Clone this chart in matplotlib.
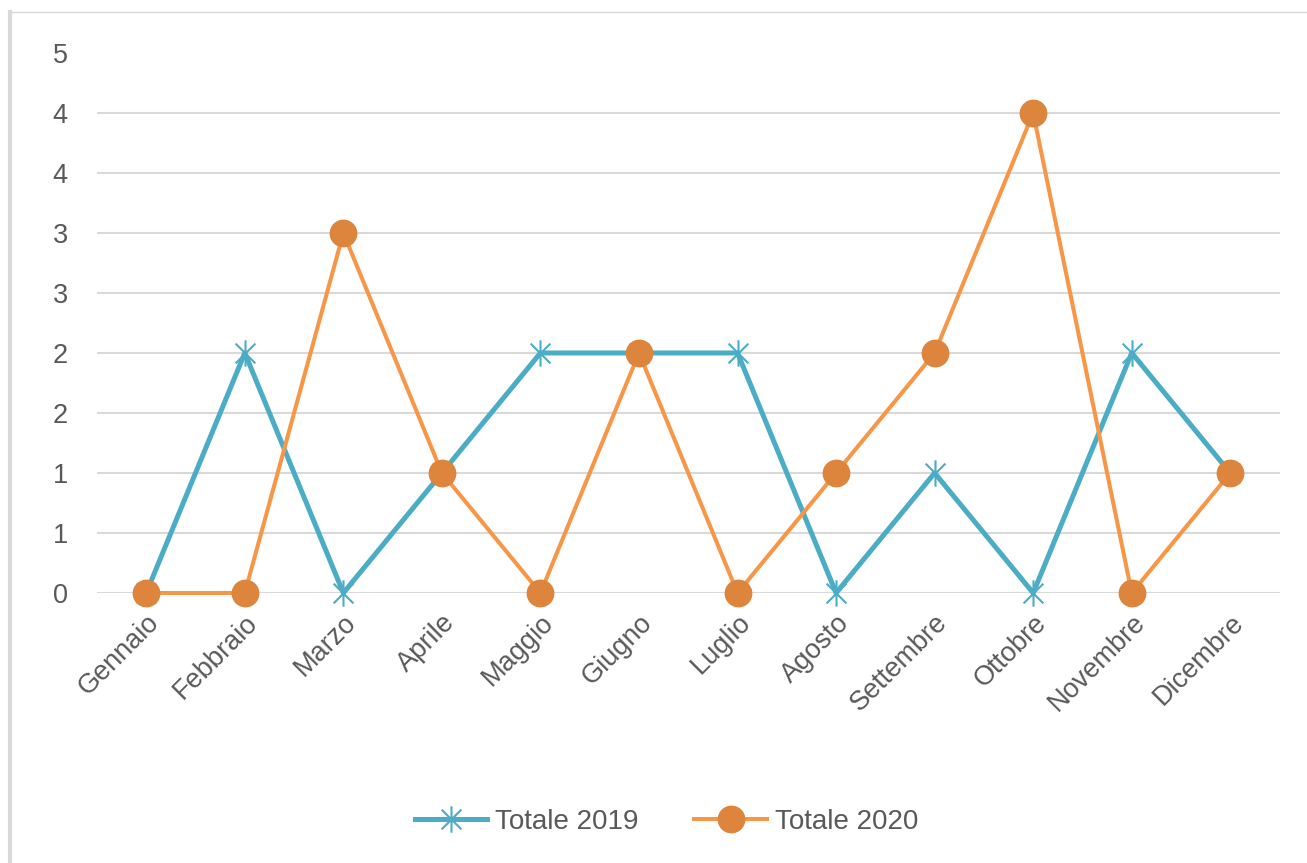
import numpy as np
import matplotlib.pyplot as plt
from matplotlib.path import Path
from matplotlib.lines import Line2D

months = ['Gennaio', 'Febbraio', 'Marzo', 'Aprile', 'Maggio', 'Giugno',
          'Luglio', 'Agosto', 'Settembre', 'Ottobre', 'Novembre', 'Dicembre']
totale_2019 = [0, 2, 0, 1, 2, 2, 2, 0, 1, 0, 2, 1]
totale_2020 = [0, 0, 3, 1, 0, 2, 0, 1, 2, 4, 0, 1]
y_ticks = [0, 0.5, 1, 1.5, 2, 2.5, 3, 3.5, 4, 4.5]
y_labels = ['0', '1', '1', '2', '2', '3', '3', '4', '4', '5']

plt.rcParams['font.family'] = ['Liberation Sans', 'DejaVu Sans']
grey = '#595959'

# asterisk like Excel: vertical bar plus an X
star = Path([(0, -1), (0, 1), (-0.75, -0.75), (0.75, 0.75), (-0.75, 0.75), (0.75, -0.75)],
            [Path.MOVETO, Path.LINETO, Path.MOVETO, Path.LINETO, Path.MOVETO, Path.LINETO])


def main():
    fig = plt.figure(figsize=(13.07, 8.63), dpi=100)
    ax = fig.add_axes([0.0742, 0.3129, 0.9048, 0.6257])
    x = np.arange(len(months))

    ax.plot(x, totale_2019, c='#4BACC6', lw=3.6, marker=star, ms=19, mew=1.5,
            mec='#4BACC6', label='Totale 2019', clip_on=False, zorder=3)
    ax.plot(x, totale_2020, c='#F79646', lw=2.9, marker='o', ms=19,
            mfc='#DD853D', mec='#DD853D', label='Totale 2020', clip_on=False, zorder=4)

    ax.set_xlim(-0.5, len(months) - 0.5)
    ax.set_ylim(0, 4.5)
    ax.set_yticks(y_ticks)
    ax.set_yticklabels(y_labels)
    ax.set_xticks(x)
    ax.set_xticklabels(months, rotation=45, ha='right', rotation_mode='anchor')
    ax.tick_params(length=0, labelsize=19.5, colors=grey)
    ax.tick_params(axis='y', pad=21)
    ax.tick_params(axis='x', pad=12)
    for s in ax.spines.values():
        s.set_visible(False)
    for yv in y_ticks[:-1]:
        ax.axhline(yv, color='#D9D9D9', lw=1.5, zorder=1)

    ax.legend(loc='center', bbox_to_anchor=(0.51, 0.048), bbox_transform=fig.transFigure,
              ncol=2, frameon=False, fontsize=20, labelcolor=grey,
              handlelength=2.6, columnspacing=2.0, handletextpad=0.3)

    # chart frame (left and top edges visible)
    fig.add_artist(Line2D([0.0077, 0.0077], [0, 0.986], color='#D9D9D9', lw=3))
    fig.add_artist(Line2D([0.0077, 1], [0.986, 0.986], color='#D9D9D9', lw=1))

    fig.savefig('out.png', dpi=100)


if __name__ == '__main__':
    main()
